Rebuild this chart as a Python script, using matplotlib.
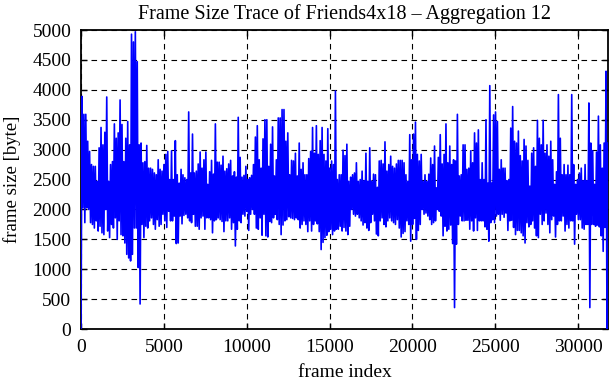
import matplotlib

matplotlib.use("Agg")
import matplotlib.pyplot as plt  # noqa: E402
import numpy as np  # noqa: E402

# Trace: local minima (troughs) and maxima (peaks)
# of the aggregated frame sizes, left to right, in bytes.
troughs = [
    # 0 - 5300
    0, 2030, 1780, 2030, 2000, 1780, 1750, 1690, 1810, 1640, 1720, 1610,
    1580, 2000, 1640, 1530, 1750, 1690, 1860, 1500, 1810, 1580, 1560, 1440,
    1250, 1190, 1140, 1250, 1690, 1690, 1030, 420, 1750, 1530, 1720, 1690,
    1810, 1860, 1750, 1670, 1830, 1720, 1750, 1920, 1810, 1700,
    # 5300 - 10600
    1970, 1810, 1810, 1890, 1430, 1440, 1890, 1760, 1900, 1920, 1860, 1810,
    1780, 1920, 1720, 1720, 1670, 1860, 1890, 1670, 1860, 1860, 1830, 1610,
    1810, 1830, 1860, 1830, 1800, 1630, 1810, 1810, 1860, 1670, 1780, 1390,
    1670, 1810, 1780, 1920, 1890, 1970, 1650, 1920, 2000, 1920,
    # 10600 - 15900
    1690, 1670, 1860, 1570, 1920, 1560, 1540, 1800, 1780, 1860, 1920, 1830,
    1750, 1580, 1740, 1810, 1830, 1880, 1860, 1850, 1830, 1860, 1830, 1690,
    1750, 1810, 1750, 1630, 1810, 1640, 1750, 1810, 1760, 1630, 1330, 1450,
    1530, 1570, 1630, 1670, 1580, 1640, 1670, 1670, 1720, 1640,
    # 15900 - 21200
    1700, 1640, 1580, 1720, 2000, 1920, 1890, 1920, 1860, 1810, 1740, 1780,
    1690, 1650, 1780, 1920, 1810, 1590, 1560, 1810, 1860, 1750, 1710, 1810,
    1860, 1810, 1780, 1750, 1830, 1690, 1540, 1600, 1630, 1810, 1750, 1470,
    1750, 1850, 1500, 1650, 1750, 2000, 1920, 1940, 1890, 1830,
    # 21200 - 26500
    1750, 1780, 1810, 2000, 1970, 1890, 1560, 1720, 1640, 1670, 1740, 1430,
    360, 1420, 1750, 1890, 1810, 1810, 1820, 1820, 1670, 1810, 1640, 1860,
    1650, 1810, 1810, 1810, 1710, 1670, 1470, 1780, 1830, 1780, 1890, 1920,
    1820, 1920, 1870, 1940, 1650, 1810, 1820, 1700, 1580, 1650,
    # 26500 - 31800
    1650, 1610, 1560, 1440, 1780, 1710, 1750, 1810, 1690, 1560, 1530, 1920,
    1750, 1810, 1940, 1750, 1610, 1830, 1890, 1540, 1750, 1810, 1810, 1890,
    1640, 1750, 1690, 1810, 1810, 1420, 1920, 1830, 1830, 1690, 1670, 1750,
    1750, 360, 1750, 1750, 1720, 1740, 1710, 1560, 1300, 1700, 0,
]
peaks = [
    # 0 - 5300
    3890, 3590, 3590, 3140, 2970, 2750, 2720, 2720, 2470, 3030, 3370, 3080,
    3290, 3880, 2470, 2750, 2800, 3430, 3190, 3280, 3830, 3420, 2800, 3190,
    3470, 3080, 4930, 4800, 4970, 4470, 3080, 3110, 2780, 2800, 3070, 2690,
    2690, 2670, 2610, 2580, 2830, 2670, 2640, 2750, 2920, 2970,
    # 5300 - 10600
    2500, 2980, 2500, 3150, 2580, 2440, 2670, 2580, 2530, 2500, 3630, 2610,
    3260, 2610, 2640, 2760, 2960, 2690, 2830, 2960, 2420, 2630, 2820, 2590,
    3430, 2790, 2790, 2740, 2890, 2640, 2680, 2760, 2820, 2560, 2630, 2540,
    3540, 2870, 2540, 2570, 2720, 2500, 2530, 2570, 2750, 3210,
    # 10600 - 15900
    3400, 2830, 2690, 3180, 3500, 3500, 2720, 3090, 3380, 2560, 2830, 3530,
    3530, 3670, 3670, 3140, 3280, 2580, 2820, 2810, 2940, 2560, 3110, 2670,
    2780, 2580, 2580, 2850, 2970, 3370, 2940, 3400, 2920, 3150, 3370, 2920,
    2810, 3350, 2690, 2810, 2750, 3980, 2500, 2580, 2580, 2990,
    # 15900 - 21200
    2900, 3090, 2470, 2540, 2580, 2610, 2780, 2470, 2500, 2640, 2480, 2940,
    2470, 3030, 2470, 2590, 2580, 2370, 2810, 2820, 2760, 3130, 2640, 2750,
    2890, 2720, 2690, 2760, 2820, 2820, 2820, 2780, 2580, 2470, 3250, 2830,
    3260, 3460, 2920, 2810, 2920, 2470, 2580, 2470, 2590, 2860,
    # 21200 - 26500
    2750, 3060, 2360, 2870, 3250, 2760, 2920, 3430, 2780, 3060, 2750, 2830,
    2810, 3590, 2560, 2580, 3080, 3080, 2670, 2690, 2980, 2780, 3280, 3110,
    3330, 2500, 2780, 2500, 3500, 2440, 4070, 2440, 3580, 3630, 3470, 2670,
    2830, 2690, 2690, 2480, 2500, 3360, 3720, 3140, 3110, 3310,
    # 26500 - 31800
    2900, 2810, 3170, 3060, 2820, 2390, 2940, 3030, 2720, 3490, 3190, 3080,
    3490, 2940, 3080, 2890, 3140, 2830, 2420, 2630, 3920, 3190, 2580, 2750,
    2580, 2740, 2580, 3920, 2750, 2420, 2500, 2610, 2690, 2480, 2750, 2480,
    3780, 3110, 2980, 2420, 2960, 3560, 3080, 2690, 3110, 4310, 3110,
]
last_frame = 31800

frame_size = np.empty(len(troughs) + len(peaks))
frame_size[0::2] = troughs
frame_size[1::2] = peaks
frame_index = np.linspace(0, last_frame, len(frame_size))

plt.rcParams["font.family"] = ["Liberation Serif", "DejaVu Serif"]

fig = plt.figure(figsize=(6.11, 3.80), dpi=100)
ax = fig.add_axes([0.1326, 0.134, 0.8624, 0.787])

ax.plot(frame_index, frame_size, color="#0000ff", lw=1.2, zorder=3)

ax.set_xlim(0, last_frame)
ax.set_ylim(0, 5000)
ax.set_xticks(np.arange(0, 30001, 5000))
ax.set_yticks(np.arange(0, 5001, 500))
ax.grid(True, color="black", lw=0.8, linestyle=(0, (5, 4)))
ax.tick_params(direction="in", length=4.5, width=1, top=True, right=True,
               pad=7, labelsize=14)
for spine in ax.spines.values():
    spine.set_linewidth(1.3)

ax.set_title("Frame Size Trace of Friends4x18 \u2013 Aggregation 12",
             fontsize=14.5, pad=8)
ax.set_xlabel("frame index", fontsize=14)
ax.set_ylabel("frame size [byte]", fontsize=13.5)
ax.xaxis.set_label_coords(0.5, -0.118)
ax.yaxis.set_label_coords(-0.113, 0.5)

fig.savefig("out.png", dpi=100)
plt.close(fig)
